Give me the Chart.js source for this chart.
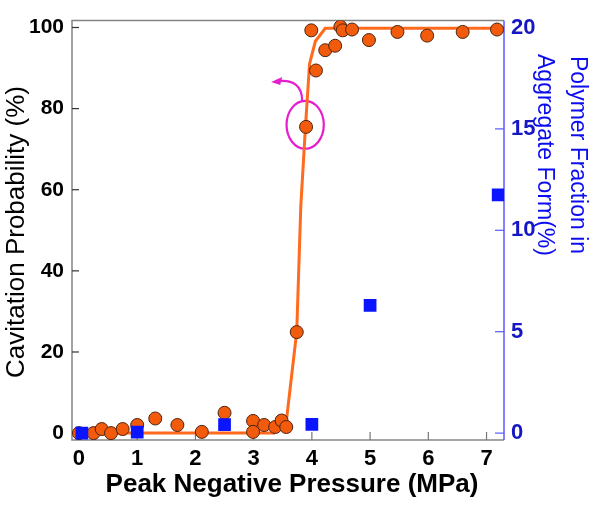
<!DOCTYPE html>
<html><head><meta charset="utf-8">
<script src="https://cdn.jsdelivr.net/npm/chart.js@4.4.1/dist/chart.umd.min.js"></script>
<style>html,body{margin:0;padding:0;background:#fff}#wrap{width:601px;height:506px}</style>
</head><body><div id="wrap"><canvas id="c" width="601" height="506"></canvas></div>
<script>
// ---- data ----
const cavX = [0, 0.25, 0.39, 0.55, 0.75, 1.0, 1.31, 1.69, 2.11, 2.5, 2.99, 2.99, 3.18, 3.37, 3.48, 3.56, 3.74, 3.90, 3.99, 4.07, 4.23, 4.40, 4.49, 4.53, 4.69, 4.98, 5.47, 5.98, 6.59, 7.18];
const cavY = [0, 0, 1.0, 0, 1.0, 2.0, 3.6, 2.0, 0.3, 5.0, 3.0, 0.3, 2.0, 1.5, 3.1, 1.5, 24.9, 75.5, 99.3, 89.4, 94.4, 95.5, 100.2, 99.3, 99.5, 96.9, 98.9, 98.0, 98.9, 99.5];
const polyX = [0.05, 1.0, 2.5, 4.0, 5.0, 7.2];
const polyY = [0, 0.05, 0.42, 0.43, 6.3, 11.75];
const fitX = [0, 3.35, 3.57, 3.74, 3.81, 3.89, 3.96, 4.06, 4.23, 7.2];
const fitY = [0, 0, 4, 25, 56, 75.5, 91, 96.6, 99.8, 99.8];
const xTicks = [0, 1, 2, 3, 4, 5, 6, 7];
const yTicks = [0, 20, 40, 60, 80, 100];
const y2Ticks = [0, 5, 10, 15, 20];
const xTitle = 'Peak Negative Pressure (MPa)';
const yTitle = 'Cavitation Probability (%)';
const y2Title = ['Polymer Fraction in', 'Aggregate Form(%)'];
// annotation (highlighted point) in data units
const markX = 3.885, markY = 76;

const FONT = "'Liberation Sans', Arial, sans-serif";
const toPts = (xs, ys) => xs.map((x, i) => ({x, y: ys[i]}));

const deco = {
  id: 'deco',
  beforeDatasetsDraw(chart) {
    const {ctx, chartArea: a, scales: {x, y, y2}} = chart;
    ctx.save();
    // frame
    ctx.lineWidth = 1.5;
    ctx.strokeStyle = '#858585';
    ctx.beginPath();
    ctx.moveTo(a.right, a.top); ctx.lineTo(a.left, a.top); ctx.lineTo(a.left, a.bottom); ctx.lineTo(a.right, a.bottom);
    ctx.stroke();
    ctx.strokeStyle = '#5a5aff';
    ctx.beginPath(); ctx.moveTo(a.right, a.top); ctx.lineTo(a.right, a.bottom); ctx.stroke();
    // inward tick marks
    ctx.lineWidth = 1.2;
    ctx.strokeStyle = '#333';
    yTicks.forEach(v => { const p = y.getPixelForValue(v); ctx.beginPath(); ctx.moveTo(a.left, p); ctx.lineTo(a.left + 7, p); ctx.stroke(); });
    ctx.strokeStyle = '#777';
    xTicks.forEach(v => { const p = x.getPixelForValue(v); ctx.beginPath(); ctx.moveTo(p, a.bottom); ctx.lineTo(p, a.bottom - 8); ctx.stroke(); });
    ctx.strokeStyle = '#5a5aff';
    y2Ticks.forEach(v => { const p = y2.getPixelForValue(v); ctx.beginPath(); ctx.moveTo(a.right, p); ctx.lineTo(a.right - 9, p); ctx.stroke(); });
    // magenta annotation: ellipse + curved arrow
    const cx = x.getPixelForValue(markX), cy = y.getPixelForValue(markY);
    const rx = x.getPixelForValue(markX + 0.32) - cx, ry = y.getPixelForValue(markY - 5.9) - cy;
    ctx.strokeStyle = '#e51ecf';
    ctx.fillStyle = '#e51ecf';
    ctx.lineWidth = 2.2;
    ctx.beginPath(); ctx.ellipse(cx, cy, rx, ry, 0, 0, Math.PI * 2); ctx.stroke();
    const sx = cx - 3, sy = cy - ry;
    ctx.beginPath();
    ctx.moveTo(sx, sy);
    ctx.bezierCurveTo(sx, sy - 16, sx - 10, sy - 21, sx - 22, sy - 20);
    ctx.stroke();
    ctx.beginPath();
    ctx.moveTo(sx - 31, sy - 19);
    ctx.lineTo(sx - 20, sy - 24);
    ctx.lineTo(sx - 22, sy - 16);
    ctx.closePath(); ctx.fill();
    ctx.restore();
  },
  afterDraw(chart) {
    const {ctx} = chart;
    ctx.save();
    // x title
    ctx.fillStyle = '#000';
    ctx.font = 'bold 26px ' + FONT;
    ctx.textAlign = 'center'; ctx.textBaseline = 'alphabetic';
    ctx.fillText(xTitle, 292, 492);
    // left title
    ctx.font = '26px ' + FONT;
    ctx.translate(24, 232); ctx.rotate(-Math.PI / 2);
    ctx.fillText(yTitle, 0, 0);
    ctx.setTransform(1, 0, 0, 1, 0, 0);
    // right title (two lines, rotated clockwise)
    ctx.fillStyle = '#0c0cf0';
    ctx.font = '23px ' + FONT;
    ctx.translate(571, 155); ctx.rotate(Math.PI / 2);
    ctx.fillText(y2Title[0], 0, 0);
    ctx.fillText(y2Title[1], 0, 33.5);
    ctx.restore();
  }
};

new Chart(document.getElementById('c'), {
  type: 'scatter',
  data: {
    datasets: [
      { label: 'Polymer fraction', data: toPts(polyX, polyY), yAxisID: 'y2', order: 0,
        pointStyle: 'rect', pointRadius: 9, pointBackgroundColor: '#0a14ff', pointBorderColor: '#0a14ff', pointBorderWidth: 0, showLine: false },
      { label: 'Cavitation probability', data: toPts(cavX, cavY), yAxisID: 'y', order: 1,
        pointStyle: 'circle', pointRadius: 6.5, pointBackgroundColor: '#f25a0c', pointBorderColor: '#4d2410', pointBorderWidth: 1, showLine: false },
      { label: 'Fit', data: toPts(fitX, fitY), yAxisID: 'y', order: 2,
        showLine: true, pointRadius: 0, borderColor: '#ff6a1c', borderWidth: 3, tension: 0, fill: false }
    ]
  },
  options: {
    responsive: false, animation: false, devicePixelRatio: 1,
    layout: { padding: { top: 9, left: 0, right: 0, bottom: 0 } },
    plugins: { legend: { display: false }, tooltip: { enabled: false } },
    scales: {
      x: { type: 'linear', position: 'bottom', min: -0.12, max: 7.3,
        afterBuildTicks: s => { s.ticks = xTicks.map(v => ({value: v})); },
        afterFit: s => { s.height = 66; },
        grid: { display: false, drawTicks: false }, border: { display: false },
        ticks: { autoSkip: false, maxRotation: 0, padding: 6, color: '#000', font: { family: FONT, size: 22, weight: 'bold' } } },
      y: { type: 'linear', position: 'left', min: -1.7, max: 101.7,
        afterBuildTicks: s => { s.ticks = yTicks.map(v => ({value: v})); },
        afterFit: s => { s.width = 72; },
        grid: { display: false, drawTicks: false }, border: { display: false },
        ticks: { autoSkip: false, padding: 8, color: '#000', font: { family: FONT, size: 21, weight: 'bold' } } },
      y2: { type: 'linear', position: 'right', min: -0.34, max: 20.34,
        afterBuildTicks: s => { s.ticks = y2Ticks.map(v => ({value: v})); },
        afterFit: s => { s.width = 97; },
        grid: { display: false, drawTicks: false }, border: { display: false },
        ticks: { autoSkip: false, padding: 7, color: '#1616c4', font: { family: FONT, size: 22, weight: 'bold' } } }
    }
  },
  plugins: [deco]
});
</script>
</body></html>
